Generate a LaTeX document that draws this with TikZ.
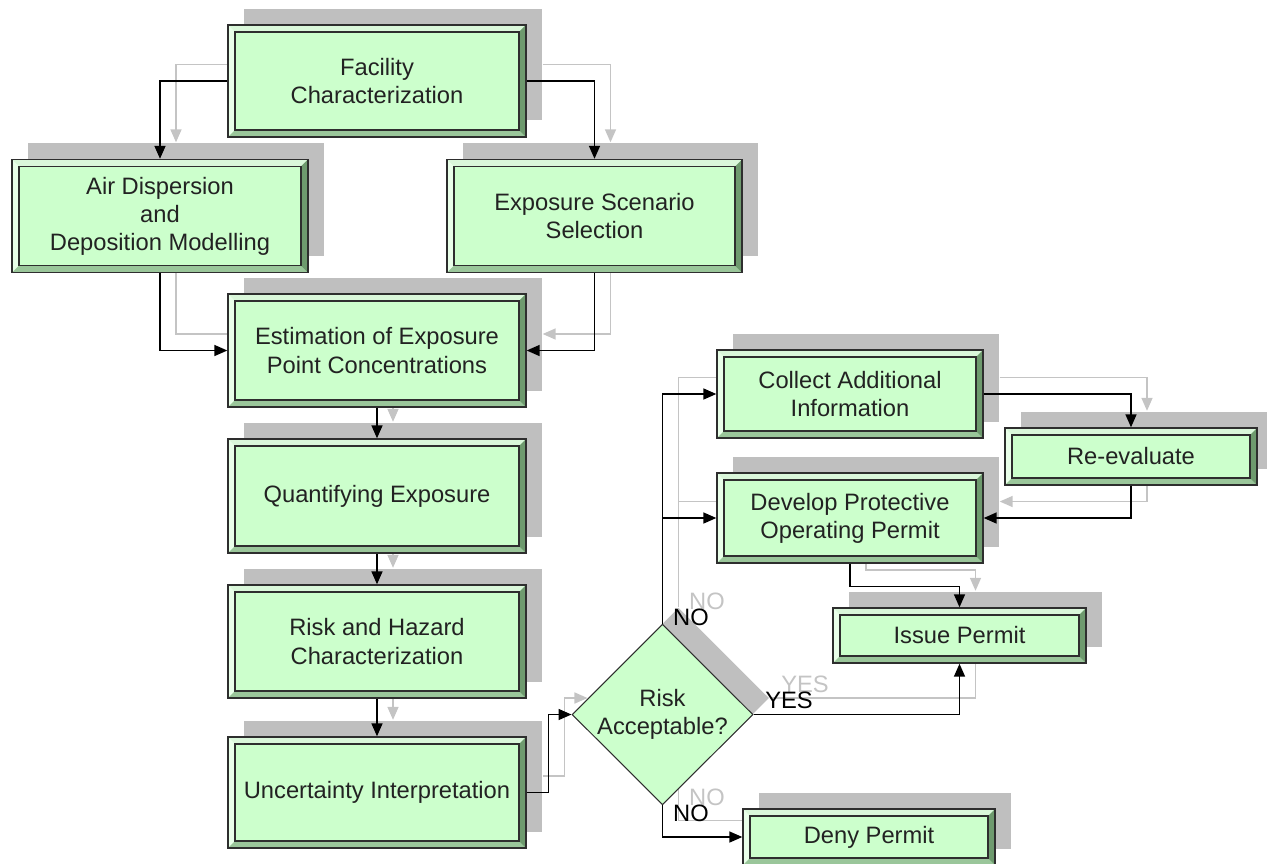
\documentclass[tikz,border=0pt]{standalone}
\usepackage{fontspec}
\setmainfont{Liberation Sans}
\usetikzlibrary{arrows.meta, shapes.geometric, shadows, backgrounds}
\definecolor{cfill}{HTML}{CCFFCC}
\definecolor{cline}{HTML}{2E2E2E}
\definecolor{cbevtop}{HTML}{DAF7DA}
\definecolor{cbevleft}{HTML}{E9FFE9}
\definecolor{cbevbot}{HTML}{9AC69A}
\definecolor{cbevright}{HTML}{6E9A6E}
\definecolor{cshadow}{HTML}{BFBFBF}
\definecolor{cghost}{HTML}{C4C4C4}
\definecolor{ctext}{HTML}{222222}
\tikzset{
  every picture/.style={font=\fontsize{13.5}{16}\selectfont},
  shadowed/.style={drop shadow={shadow xshift=0.32cm, shadow yshift=0.33cm, fill=cshadow, opacity=1}},
  box/.style={shadowed, draw=cline, line width=0.8pt, fill=cfill, text=ctext, align=center, inner sep=0pt,
    minimum width=#1,
    path picture={
      \path (path picture bounding box.south west) coordinate (bsw)
            (path picture bounding box.south east) coordinate (bse)
            (path picture bounding box.north west) coordinate (bnw)
            (path picture bounding box.north east) coordinate (bne);
      \fill[cbevtop] (bnw) -- (bne) -- ([xshift=-0.14cm, yshift=-0.14cm]bne) -- ([xshift=0.14cm, yshift=-0.14cm]bnw) -- cycle;
      \fill[cbevleft] (bnw) -- ([xshift=0.14cm, yshift=-0.14cm]bnw) -- ([xshift=0.14cm, yshift=0.14cm]bsw) -- (bsw) -- cycle;
      \fill[cbevbot] (bsw) -- (bse) -- ([xshift=-0.14cm, yshift=0.14cm]bse) -- ([xshift=0.14cm, yshift=0.14cm]bsw) -- cycle;
      \fill[cbevright] (bse) -- (bne) -- ([xshift=-0.14cm, yshift=-0.14cm]bne) -- ([xshift=-0.14cm, yshift=0.14cm]bse) -- cycle;
      \draw[cline, line width=0.8pt] ([xshift=0.14cm, yshift=0.14cm]bsw) rectangle ([xshift=-0.14cm, yshift=-0.14cm]bne);
    }},
  box/.default=5.96cm,
  decision/.style={shadowed, diamond, draw=cline, line width=0.6pt, fill=cfill, text=ctext, align=center,
    inner sep=0pt, minimum width=3.62cm, minimum height=3.3cm},
  arrow/.style={-{Triangle[length=0.26cm, width=0.22cm]}, draw=black, line width=0.9pt},
  ghost/.style={-{Triangle[length=0.26cm, width=0.22cm]}, draw=cghost, line width=0.9pt,
    transform canvas={xshift=0.32cm, yshift=0.33cm}},
  lbl/.style={text=black},
  ghostlbl/.style={text=cghost},
}

\begin{document}
\begin{tikzpicture}[x=0.02cm, y=-0.02cm]
  \useasboundingbox (0,0) rectangle (1267,863);

  % main column
  \node[box, minimum height=2.24cm] (fac) at (377,81) {Facility\\Characterization};
  \node[box=5.92cm, minimum height=2.26cm] (air) at (160,216) {Air Dispersion\\and\\Deposition Modelling};
  \node[box=5.9cm, minimum height=2.26cm] (exp) at (594.5,216) {Exposure Scenario\\Selection};
  \node[box, minimum height=2.26cm] (est) at (377,350.5) {Estimation of Exposure\\Point Concentrations};
  \node[box, minimum height=2.28cm] (qua) at (377,496) {Quantifying Exposure};
  \node[box, minimum height=2.26cm] (rsk) at (377,641.5) {Risk and Hazard\\Characterization};
  \node[box, minimum height=2.22cm] (unc) at (377,792.5) {Uncertainty Interpretation};

  % decision and outcomes
  \node[decision] (dia) at (662.5,714.5) {Risk\\Acceptable?};
  \node[box=5.32cm, minimum height=1.76cm] (col) at (850,394) {Collect Additional\\Information};
  \node[box=5.04cm, minimum height=1.14cm] (rev) at (1131,456.5) {Re-evaluate};
  \node[box=5.32cm, minimum height=1.8cm] (dev) at (850,518) {Develop Protective\\Operating Permit};
  \node[box=5.06cm, minimum height=1.1cm] (iss) at (959.5,635.5) {Issue Permit};
  \node[box=5.04cm, minimum height=1.12cm] (den) at (869,837) {Deny Permit};

  % grey copies of the connectors
  \begin{scope}[on background layer]
    \draw[ghost] (fac.west) -| (air.north);
    \draw[ghost] (fac.east) -| (exp.north);
    \draw[ghost] (air.south) |- (est.west);
    \draw[ghost] (exp.south) |- (est.east);
    \draw[ghost] (est) -- (qua);
    \draw[ghost] (qua) -- (rsk);
    \draw[ghost] (rsk) -- (unc);
    \draw[ghost] (unc.east) -- ++(22,0) |- (dia.west);
    \draw[ghost] (dia.north) |- (col.west);
    \draw[ghost] (dia.north) |- (dev.west);
    \draw[ghost] (col.east) -| (rev.north);
    \draw[ghost] (rev.south) |- (dev.east);
    \draw[ghost] (dev.south) -- ++(0,23) -| (iss.north);
    \draw[ghost] (dia.east) -| (iss.south);
    \draw[ghost] (dia.south) |- (den.west);
    \node[ghostlbl] (noupg) at (707,601) {NO};
    \node[ghostlbl] (yesg) at (805,684) {YES};
    \node[ghostlbl] (nodng) at (707,797) {NO};
  \end{scope}

  \draw[arrow] (fac.west) -| (air.north);
  \draw[arrow] (fac.east) -| (exp.north);
  \draw[arrow] (air.south) |- (est.west);
  \draw[arrow] (exp.south) |- (est.east);
  \draw[arrow] (est) -- (qua);
  \draw[arrow] (qua) -- (rsk);
  \draw[arrow] (rsk) -- (unc);
  \draw[arrow] (unc.east) -- ++(22,0) |- (dia.west);
  \draw[arrow] (dia.north) |- (col.west);
  \draw[arrow] (dia.north) |- (dev.west);
  \draw[arrow] (col.east) -| (rev.north);
  \draw[arrow] (rev.south) |- (dev.east);
  \draw[arrow] (dev.south) -- ++(0,23) -| (iss.north);
  \draw[arrow] (dia.east) -| (iss.south);
  \draw[arrow] (dia.south) |- (den.west);

  \node[lbl] (noup) at (691,617) {NO};
  \node[lbl] (yes) at (789,700) {YES};
  \node[lbl] (nodn) at (691,813) {NO};
\end{tikzpicture}
\end{document}
